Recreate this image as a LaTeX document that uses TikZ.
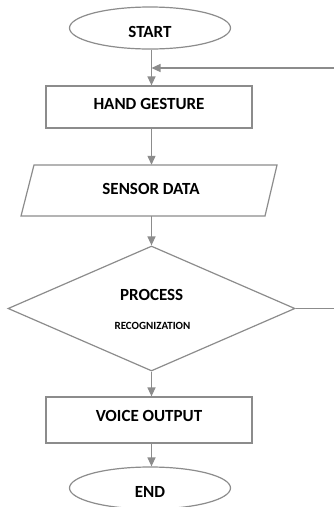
\documentclass[tikz,border=0pt]{standalone}
\usepackage{fontspec}
\setmainfont{Carlito}
\usetikzlibrary{shapes.geometric,arrows.meta}
\definecolor{ln}{RGB}{140,140,140}
\tikzset{
  big/.style={font=\fontsize{17}{20}\selectfont\bfseries},
  term/.style={ellipse, draw=ln, line width=1.2pt, minimum width=161pt, minimum height=42pt, inner sep=0pt, big, text height=18pt, text depth=0pt},
  procbox/.style={rectangle, draw=ln, line width=1.2pt, minimum width=206pt, inner sep=0pt, big},
  decide/.style={diamond, draw=ln, line width=1.2pt, minimum width=287pt, minimum height=125pt, inner sep=0pt},
  arr/.style={draw=ln, line width=1.2pt, -{Triangle[width=8pt,length=9pt]}},
  plain/.style={draw=ln, line width=1.2pt}
}
\begin{document}
\begin{tikzpicture}[x=1pt,y=-1pt]
\path[use as bounding box, fill=white] (0,0) rectangle (334,507);
\node[term] (start) at (150,28) {START};
\node[procbox, minimum height=42pt, text height=11pt, text depth=6pt] (hand) at (149,107) {HAND GESTURE};
\node[minimum width=243pt, minimum height=51pt, inner sep=0pt, big, text height=11pt, text depth=3pt] (sensor) at (151,190.5) {SENSOR DATA};
\draw[plain] (34,165) -- (277,165) -- (265,216) -- (21,216) -- cycle;
\node[decide] (proc) at (151.5,308.5) {};
\node[big] (ptxt) at (151.7,295) {PROCESS};
\node[font=\fontsize{11}{13}\selectfont\bfseries] (rtxt) at (152.5,326) {RECOGNIZATION};
\node[procbox, minimum height=46pt, text height=11pt, text depth=8pt] (voice) at (149,420) {VOICE OUTPUT};
\node[term] (end) at (150,488) {END};
\coordinate (fb) at (334,68);
\coordinate (out) at (334,308.5);
\draw[arr] (start.south -| proc.north) -- (hand.north -| proc.north);
\draw[arr] (fb) -- (fb -| proc.north);
\draw[arr] (hand.south -| proc.north) -- (sensor.north -| proc.north);
\draw[arr] (sensor.south -| proc.north) -- (proc.north);
\draw[arr] (proc.south) -- (voice.north -| proc.south);
\draw[arr] (voice.south -| proc.south) -- (end.north -| proc.south);
\draw[plain] (proc.east) -- (out);
\end{tikzpicture}
\end{document}
